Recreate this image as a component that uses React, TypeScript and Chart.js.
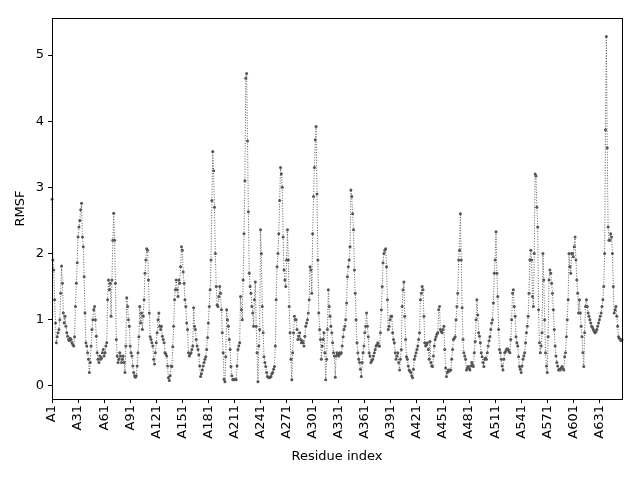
import React, { useEffect, useRef } from "react";
import { Chart, registerables } from "chart.js";

Chart.register(...registerables);

// RMSF per residue (residues A1..A657)
const rmsfPart1 = [
  2.82, 1.9, 1.75, 1.3, 0.95, 0.65, 0.74, 0.8, 0.85, 1.0,
  1.4, 1.81, 1.55, 1.1, 0.95, 1.05, 0.9, 0.8, 0.75, 0.7,
  0.68, 0.72, 0.7, 0.65, 0.62, 0.6, 0.74, 1.2, 1.55, 1.86,
  2.25, 2.4, 2.5, 2.66, 2.76, 2.25, 2.1, 1.65, 1.1, 0.65,
  0.6, 0.5, 0.4, 0.2, 0.35, 0.6, 0.85, 1.0, 1.15, 1.2,
  1.0, 0.75, 0.5, 0.4, 0.35, 0.45, 0.4, 0.42, 0.5, 0.55,
  0.45, 0.5, 0.6, 0.65, 1.3, 1.6, 1.45, 1.55, 1.05, 1.6,
  2.2, 2.61, 2.2, 1.55, 0.7, 0.45, 0.35, 0.4, 0.5, 0.45,
  0.35, 0.4, 0.45, 0.35, 0.2, 0.6, 1.33, 1.2, 1.0, 0.9,
  0.6, 0.5, 0.45, 0.3, 0.2, 0.15, 0.13, 0.15, 0.3, 0.5,
];
const rmsfPart2 = [
  0.74, 1.2, 0.95, 1.1, 0.85, 1.05, 1.3, 1.7, 1.9, 2.07,
  2.05, 1.6, 1.1, 0.74, 0.7, 0.65, 0.6, 0.4, 0.33, 0.5,
  0.65, 0.8, 1.0, 1.1, 0.9, 0.85, 0.9, 0.75, 0.7, 0.65,
  0.5, 0.48, 0.45, 0.3, 0.12, 0.08, 0.15, 0.3, 0.29, 0.59,
  0.9, 1.3, 1.45, 1.6, 1.45, 1.35, 1.6, 1.55, 1.8, 2.1,
  2.05, 1.72, 1.55, 1.3, 1.2, 0.95, 0.85, 0.5, 0.45, 0.48,
  0.5, 0.55, 0.6, 1.18, 0.9, 0.85, 0.7, 0.6, 0.55, 0.47,
  0.3, 0.14, 0.18, 0.24, 0.3, 0.35, 0.4, 0.44, 0.55, 0.73,
  0.95, 1.2, 1.45, 1.9, 2.8, 3.54, 3.25, 2.7, 2.0, 1.5,
  1.22, 1.2, 1.35, 1.5, 1.4, 1.15, 0.8, 0.5, 0.1, 0.06,
];
const rmsfPart3 = [
  0.44, 1.15, 1.0, 0.9, 0.7, 0.55, 0.29, 0.15, 0.09, 0.1,
  0.09, 0.1, 0.09, 0.3, 0.55, 0.6, 0.65, 1.35, 1.15, 1.0,
  1.6, 2.3, 3.1, 4.65, 4.72, 3.7, 2.63, 1.7, 1.5, 1.4,
  1.2, 1.1, 0.9, 1.3, 1.57, 0.9, 0.5, 0.06, 0.6, 0.85,
  2.36, 2.0, 1.2, 0.8, 0.44, 0.35, 0.29, 0.2, 0.14, 0.13,
  0.12, 0.13, 0.14, 0.18, 0.2, 0.25, 0.29, 0.6, 1.3, 1.8,
  2.0, 2.3, 2.8, 3.3, 3.2, 3.0, 2.25, 1.75, 1.6, 1.5,
  1.9, 2.36, 1.9, 1.2, 0.8, 0.4, 0.09, 0.5, 0.8, 1.05,
  1.0, 1.0, 0.85, 0.7, 0.75, 0.8, 0.7, 0.65, 0.68, 0.65,
  0.6, 0.75, 0.9, 0.95, 1.0, 1.1, 1.3, 1.8, 1.75, 1.4,
];
const rmsfPart4 = [
  2.3, 2.86, 3.3, 3.72, 3.92, 2.9, 1.9, 1.1, 0.85, 0.7,
  0.4, 0.6, 0.7, 0.8, 0.5, 0.09, 0.4, 0.85, 1.45, 1.2,
  1.05, 0.9, 0.8, 0.65, 0.5, 0.45, 0.13, 0.45, 0.5, 0.48,
  0.45, 0.5, 0.48, 0.5, 0.6, 0.74, 0.85, 0.9, 1.0, 1.25,
  1.65, 1.8, 1.9, 2.1, 2.96, 2.86, 2.6, 2.36, 1.75, 1.4,
  1.0, 0.65, 0.5, 0.4, 0.35, 0.25, 0.14, 0.35, 0.5, 0.6,
  0.8, 0.9, 1.1, 0.9, 0.74, 0.5, 0.45, 0.35, 0.38, 0.4,
  0.45, 0.5, 0.55, 0.6, 0.62, 0.65, 0.6, 0.6, 0.8, 1.15,
  1.5, 1.86, 2.0, 2.05, 2.07, 1.8, 1.3, 0.85, 0.9, 1.0,
  1.05, 1.05, 0.8, 0.7, 0.65, 0.5, 0.4, 0.45, 0.5, 0.35,
];
const rmsfPart5 = [
  0.24, 0.4, 0.55, 1.2, 1.45, 1.57, 1.05, 0.7, 0.44, 0.4,
  0.3, 0.24, 0.22, 0.2, 0.15, 0.12, 0.25, 0.4, 0.45, 0.5,
  0.55, 0.6, 0.7, 0.8, 1.3, 1.4, 1.5, 1.45, 1.05, 0.65,
  0.6, 0.62, 0.65, 0.55, 0.4, 0.67, 0.35, 0.3, 0.29, 0.45,
  0.6, 0.7, 0.74, 0.78, 0.8, 1.15, 1.2, 0.85, 0.82, 0.8,
  0.85, 0.9, 0.55, 0.27, 0.14, 0.2, 0.24, 0.22, 0.24, 0.24,
  0.4, 0.55, 0.7, 0.72, 0.74, 1.0, 1.2, 1.4, 1.9, 2.05,
  2.6, 1.9, 1.18, 0.7, 0.5, 0.45, 0.4, 0.24, 0.27, 0.29,
  0.26, 0.24, 0.3, 0.35, 0.32, 0.29, 0.5, 0.67, 1.0, 1.3,
  1.07, 0.8, 0.75, 0.65, 0.5, 0.44, 0.35, 0.29, 0.4, 0.42,
];
const rmsfPart6 = [
  0.4, 0.5, 0.6, 0.68, 0.74, 0.85, 0.95, 1.0, 1.25, 1.7,
  1.9, 2.33, 1.7, 1.35, 0.85, 0.55, 0.5, 0.4, 0.3, 0.24,
  0.4, 0.5, 0.52, 0.55, 0.56, 0.55, 0.52, 0.5, 0.7, 1.0,
  1.4, 1.45, 1.2, 1.05, 0.74, 0.65, 0.6, 0.44, 0.29, 0.25,
  0.2, 0.3, 0.4, 0.45, 0.5, 0.65, 0.8, 0.9, 1.05, 1.4,
  1.9, 2.05, 1.9, 1.35, 1.2, 2.0, 3.2, 3.17, 2.7, 2.4,
  1.15, 0.65, 0.5, 0.6, 0.8, 2.0, 1.6, 1.0, 0.5, 0.3,
  0.2, 0.74, 1.6, 1.75, 1.7, 1.55, 1.4, 1.15, 0.85, 0.6,
  0.45, 0.35, 0.3, 0.24, 0.25, 0.24, 0.27, 0.29, 0.26, 0.24,
  0.44, 0.5, 0.74, 1.0, 1.3, 2.0, 1.8, 1.7, 2.0, 2.0,
];
const rmsfPart7 = [
  1.95, 2.1, 2.25, 1.9, 1.6, 1.4, 1.1, 1.3, 1.1, 0.9,
  0.74, 0.5, 0.29, 0.8, 1.2, 1.3, 1.2, 1.1, 1.05, 1.0,
  0.95, 0.9, 0.88, 0.85, 0.82, 0.8, 0.82, 0.85, 0.9, 0.95,
  1.0, 1.05, 1.1, 1.2, 1.3, 1.5, 2.0, 3.87, 5.28, 3.6,
  2.4, 2.2, 2.2, 2.3, 2.25, 2.0, 1.5, 1.1, 1.15, 1.2,
  1.05, 0.9, 0.74, 0.72, 0.7, 0.68, 0.7,
];

const rmsf = [
  ...rmsfPart1, ...rmsfPart2, ...rmsfPart3, ...rmsfPart4,
  ...rmsfPart5, ...rmsfPart6, ...rmsfPart7,
];
const residues = rmsf.map((_, i) => `A${i + 1}`);
const labelEvery = 30;
const yTicks = [0, 1, 2, 3, 4, 5];

const FONT = "'DejaVu Sans', sans-serif";

const frame = {
  id: "frame",
  afterDraw(chart: Chart) {
    const { ctx, chartArea: a } = chart;
    ctx.save();
    ctx.strokeStyle = "#000";
    ctx.lineWidth = 1;
    ctx.strokeRect(Math.round(a.left) + 0.5, Math.round(a.top) + 0.5,
      Math.round(a.right - a.left), Math.round(a.bottom - a.top));
    ctx.restore();
  },
};

const App = () => {
  const canvasRef = useRef<HTMLCanvasElement>(null);

  useEffect(() => {
    document.body.style.margin = "0";
    if (!canvasRef.current) return;
    const chart = new Chart(canvasRef.current, {
      type: "line",
      data: {
        labels: residues,
        datasets: [
          {
            data: rmsf,
            borderColor: "#5c5c5c",
            borderWidth: 1,
            borderDash: [1, 1.6],
            pointRadius: 1.5,
            pointBackgroundColor: "#555",
            pointBorderWidth: 0,
            tension: 0,
          },
        ],
      },
      options: {
        animation: false,
        responsive: false,
        layout: { padding: { left: 0, right: 18, top: 18, bottom: 0 } },
        plugins: { legend: { display: false }, tooltip: { enabled: false } },
        scales: {
          x: {
            type: "category",
            offset: false,
            afterFit: (s: any) => { s.height = 81; },
            grid: { drawOnChartArea: false, drawTicks: true, tickLength: 4, color: "#000" },
            border: { color: "#000" },
            ticks: {
              autoSkip: false,
              minRotation: 90,
              maxRotation: 90,
              padding: 2,
              color: "#000",
              font: { family: FONT, size: 13 },
              callback: (_v: any, i: number) => (i % labelEvery === 0 ? residues[i] : null),
            },
            title: {
              display: true,
              text: "Residue index",
              color: "#000",
              font: { family: FONT, size: 13 },
              padding: { top: 0, bottom: 16 },
            },
          },
          y: {
            min: -0.2,
            max: 5.56,
            afterFit: (s: any) => { s.width = 52; },
            afterBuildTicks: (s: any) => { s.ticks = yTicks.map((v) => ({ value: v })); },
            grid: { drawOnChartArea: false, drawTicks: true, tickLength: 4, color: "#000" },
            border: { color: "#000" },
            ticks: {
              padding: 4,
              color: "#000",
              font: { family: FONT, size: 13 },
            },
            title: {
              display: true,
              text: "RMSF",
              color: "#000",
              font: { family: FONT, size: 13 },
              padding: { top: 13, bottom: 0 },
            },
          },
        },
      },
      plugins: [frame],
    });
    return () => chart.destroy();
  }, []);

  return (
    <div style={{ width: 640, height: 480, background: "#fff" }}>
      <canvas ref={canvasRef} width={640} height={480} />
    </div>
  );
};

export default App;
